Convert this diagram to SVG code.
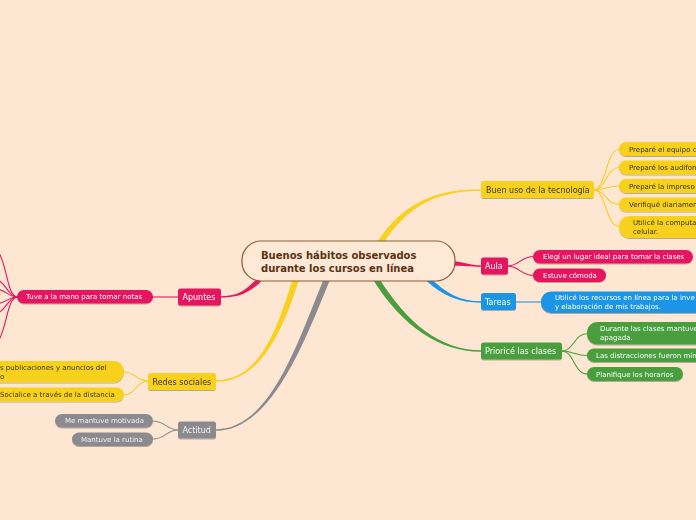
<svg xmlns="http://www.w3.org/2000/svg" width="696" height="520" viewBox="0 0 696 520">
<defs>
<filter id="sh" x="-10%" y="-30%" width="120%" height="170%">
<feDropShadow dx="0" dy="1" stdDeviation="0.7" flood-color="#000" flood-opacity="0.28"/>
</filter>
<style>
.bg{fill:#fde7d2}
.t{font-family:"DejaVu Sans",Verdana,sans-serif;font-size:7px}
.b{font-family:"DejaVu Sans",Verdana,sans-serif;font-size:8px}
.c{font-family:"DejaVu Sans",Verdana,sans-serif;font-size:10px;font-weight:bold;fill:#5a3212}
.y{fill:#f8d11f}
.p{fill:#e5195f}
.bl{fill:#1c95e6}
.g{fill:#4a9e3e}
.gr{fill:#8b8b8f}
.dk{fill:#3a3320}
.wh{fill:#ffffff}
.lw{fill:#f2f2f2}
.cn{fill:none;stroke-width:1.1}
.sy{stroke:#f5cf2a}
.sp{stroke:#e5195f}
.sb{stroke:#1c95e6}
.sg{stroke:#4a9e3e}
.sgr{stroke:#8b8b8f}
</style>
</defs>
<rect class="bg" x="0" y="0" width="696" height="520"/>
<g id="connectors">
<!-- main tapered connectors -->
<path fill="#f8d11f" d="M382.5 244.6 C407 206.6 435 191 481 190.8 L481 189.2 C435 189 403 203.4 377.5 241.4 Z"/>
<path fill="#e5195f" d="M450 265.5 C465 266 470 266.7 481 266.7 L481 265.3 C470 265.3 465 262 450 260.5 Z"/>
<path fill="#1c95e6" d="M426.3 280.8 C443.6 296.5 460 302.8 481 302.7 L481 301.3 C460 301.2 446.4 293.5 429.7 277.2 Z"/>
<path fill="#4a9e3e" d="M373.5 280.6 C402.5 326.6 440 352 481 351.8 L481 350.2 C440 350 407.5 323.4 378.5 277.4 Z"/>
<path fill="#e5195f" d="M263.8 278.7 C249.8 293.7 238 297.8 220 297.8 L220 296.2 C238 296.2 246.2 290.3 260.2 275.3 Z"/>
<path fill="#f8d11f" d="M298.9 279.9 C282.9 330.9 260 382 216 381.8 L216 380.2 C260 380 277.1 329.1 293.1 278.1 Z"/>
<path fill="#8b8b8f" d="M329.9 279.9 C302.9 345.9 270 431 216 430.8 L216 429.2 C270 429 297.1 344.1 324.1 278.1 Z"/>
<!-- child connectors -->
<path class="cn sy" d="M593 190 C607 190 605 149 620 149"/>
<path class="cn sy" d="M593 190 C607 190 605 167.5 620 167.5"/>
<path class="cn sy" d="M593 190 C607 190 605 186 620 186"/>
<path class="cn sy" d="M593 190 C607 190 605 204.5 620 204.5"/>
<path class="cn sy" d="M593 190 C607 190 605 227 620 227"/>
<path class="cn sp" d="M507 266 C520 266 520 256.5 534 256.5"/>
<path class="cn sp" d="M507 266 C520 266 520 275.5 534 275.5"/>
<path class="cn sb" d="M515 302 L542 302"/>
<path class="cn sg" d="M561 351 C575 351 573 333.5 588 333.5"/>
<path class="cn sg" d="M561 351 C575 351 573 355.5 588 355.5"/>
<path class="cn sg" d="M561 351 C575 351 573 374 588 374"/>
<path class="cn sp" d="M179 297 L152 297"/>
<path class="cn sp" d="M18 297 C6 297 8 262 -4 248"/>
<path class="cn sp" d="M18 297 C8 297 6 282 -4 279"/>
<path class="cn sp" d="M18 297 C8 297 6 290 -4 289"/>
<path class="cn sp" d="M18 297 C8 297 6 303 -4 304"/>
<path class="cn sp" d="M18 297 C8 297 6 311 -4 314"/>
<path class="cn sp" d="M18 297 C6 297 8 330 -4 345"/>
<path class="cn sy" d="M149 381 C135 381 137 372 123 372"/>
<path class="cn sy" d="M149 381 C135 381 137 395 123 395"/>
<path class="cn sgr" d="M179 430 C165 430 167 421 152 421"/>
<path class="cn sgr" d="M179 430 C165 430 167 439 152 439"/>
</g>
<g id="center">
<rect x="242" y="241" width="213" height="40" rx="19" fill="#fde9d6" stroke="#8e5c34" stroke-width="1.2"/>
<text class="c" x="261" y="259">Buenos hábitos observados</text>
<text class="c" x="261" y="272">durante los cursos en línea</text>
</g>
<g id="n-tecnologia" filter="url(#sh)">
<rect class="y" x="481" y="181" width="113" height="17" rx="2.5"/>
<text class="b dk" x="486" y="192.5">Buen uso de la tecnología</text>
</g>
<g id="n-equipo" filter="url(#sh)">
<rect class="y" x="619" y="142" width="90" height="14" rx="7"/>
<text class="t dk" x="629" y="151.5">Preparé el equipo c</text>
</g>
<g id="n-audifonos" filter="url(#sh)">
<rect class="y" x="619" y="160.5" width="90" height="14" rx="7"/>
<text class="t dk" x="629" y="170">Preparé los audífon</text>
</g>
<g id="n-impresora" filter="url(#sh)">
<rect class="y" x="619" y="179" width="90" height="14" rx="7"/>
<text class="t dk" x="629" y="188.5">Preparé la impreso</text>
</g>
<g id="n-verifique" filter="url(#sh)">
<rect class="y" x="619" y="197.5" width="90" height="14" rx="7"/>
<text class="t dk" x="629" y="207">Verifiqué diariamen</text>
</g>
<g id="n-computadora" filter="url(#sh)">
<rect class="y" x="619" y="216" width="90" height="22" rx="10"/>
<text class="t dk" x="633" y="224.5">Utilicé la computa</text>
<text class="t dk" x="633" y="234">celular.</text>
</g>
<g id="n-aula" filter="url(#sh)">
<rect class="p" x="481" y="257.5" width="27" height="17" rx="2.5"/>
<text class="b wh" x="485" y="269">Aula</text>
</g>
<g id="n-lugar" filter="url(#sh)">
<rect class="p" x="533" y="250" width="160" height="13.5" rx="6.75"/>
<text class="t wh" x="543" y="259.3">Elegí un lugar ideal para tomar la clases</text>
</g>
<g id="n-comoda" filter="url(#sh)">
<rect class="p" x="533" y="268.5" width="73" height="13.5" rx="6.75"/>
<text class="t wh" x="543" y="277.8">Estuve cómoda</text>
</g>
<g id="n-tareas" filter="url(#sh)">
<rect class="bl" x="481" y="293" width="35" height="17" rx="2.5"/>
<text class="b wh" x="485" y="304.5">Tareas</text>
</g>
<g id="n-recursos" filter="url(#sh)">
<rect class="bl" x="541" y="291.5" width="170" height="21.5" rx="10"/>
<text class="t wh" x="555" y="299.8">Utilicé los recursos en línea para la inve</text>
<text class="t wh" x="555" y="309.3">y elaboración de mis trabajos.</text>
</g>
<g id="n-priorice" filter="url(#sh)">
<rect class="g" x="481" y="342.5" width="81" height="17" rx="2.5"/>
<text class="b wh" x="485" y="354">Prioricé las clases</text>
</g>
<g id="n-durante" filter="url(#sh)">
<rect class="g" x="587" y="322" width="120" height="22.5" rx="10"/>
<text class="t wh" x="600" y="330.5">Durante las clases mantuve</text>
<text class="t wh" x="600" y="340">apagada.</text>
</g>
<g id="n-distracciones" filter="url(#sh)">
<rect class="g" x="587" y="348.5" width="120" height="13.5" rx="6.75"/>
<text class="t wh" x="596" y="357.8">Las distracciones fueron mín</text>
</g>
<g id="n-planifique" filter="url(#sh)">
<rect class="g" x="587" y="367" width="96" height="14" rx="7"/>
<text class="t wh" x="596" y="376.5">Planifique los horarios</text>
</g>
<g id="n-apuntes" filter="url(#sh)">
<rect class="p" x="178" y="288.5" width="43" height="17" rx="2.5"/>
<text class="b wh" x="182.5" y="300">Apuntes</text>
</g>
<g id="n-mano" filter="url(#sh)">
<rect class="p" x="17" y="290" width="136" height="13.5" rx="6.75"/>
<text class="t wh" x="26" y="299.3">Tuve a la mano para tomar notas</text>
</g>
<g id="n-redes" filter="url(#sh)">
<rect class="y" x="148" y="373" width="68" height="17" rx="2.5"/>
<text class="b dk" x="152.5" y="384.5">Redes sociales</text>
</g>
<g id="n-publicaciones" filter="url(#sh)">
<rect class="y" x="-20" y="361" width="144" height="21.5" rx="10"/>
<text class="t dk" x="0" y="369.8">s publicaciones y anuncios del</text>
<text class="t dk" x="0" y="379.3">o</text>
</g>
<g id="n-socialice" filter="url(#sh)">
<rect class="y" x="-20" y="387.5" width="144" height="14" rx="7"/>
<text class="t dk" x="0" y="397">Socialice a través de la distancia</text>
</g>
<g id="n-actitud" filter="url(#sh)">
<rect class="gr" x="178" y="421.5" width="38" height="17" rx="2.5"/>
<text class="b lw" x="182.5" y="433">Actitud</text>
</g>
<g id="n-motivada" filter="url(#sh)">
<rect class="gr" x="55" y="414" width="98" height="13.5" rx="6.75"/>
<text class="t lw" x="65" y="423.3">Me mantuve motivada</text>
</g>
<g id="n-rutina" filter="url(#sh)">
<rect class="gr" x="72" y="432.5" width="81" height="13.5" rx="6.75"/>
<text class="t lw" x="81" y="441.8">Mantuve la rutina</text>
</g>
</svg>
